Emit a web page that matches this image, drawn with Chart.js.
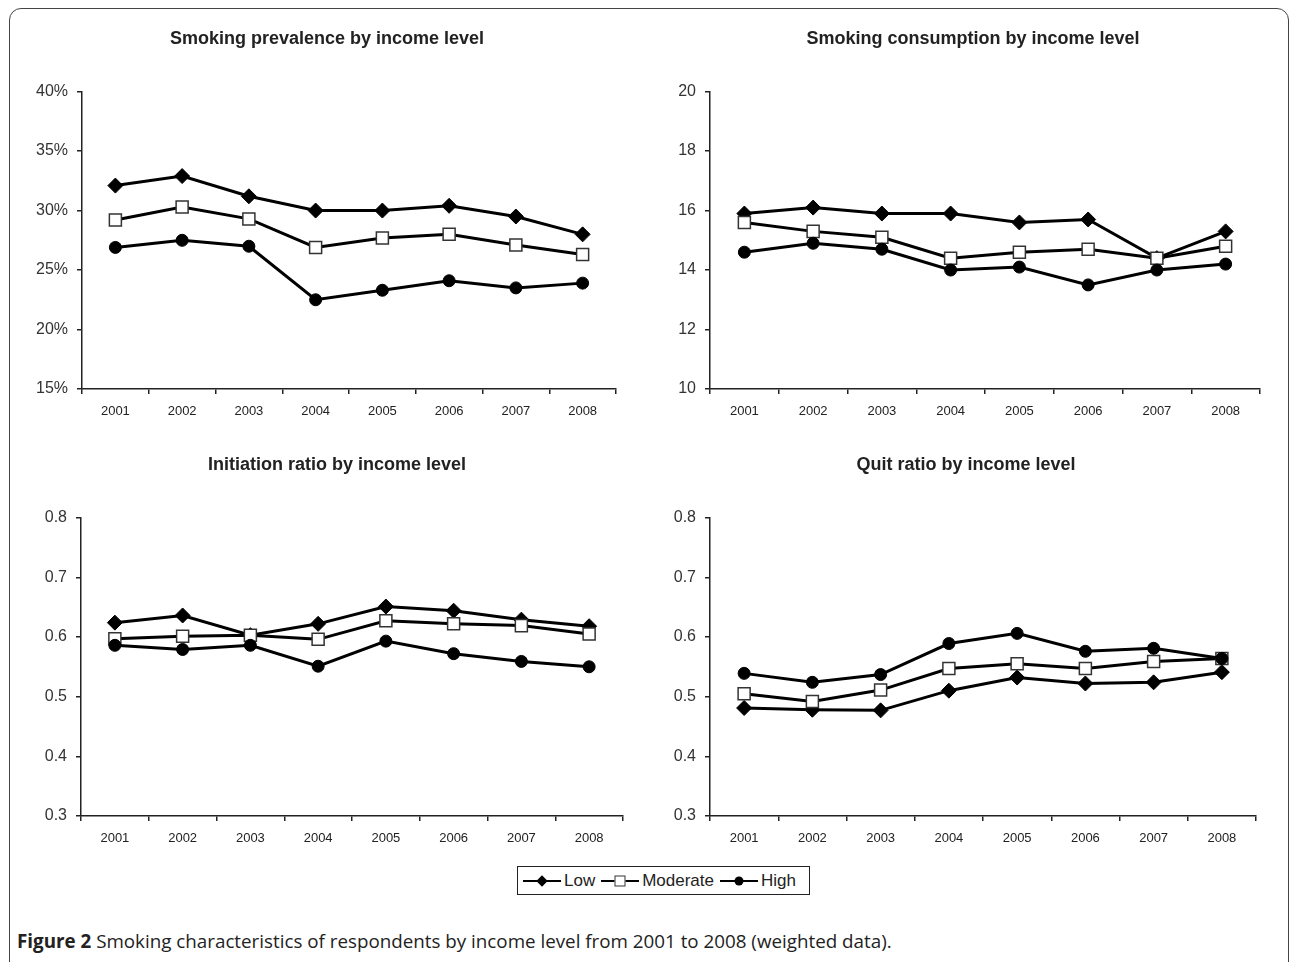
<!DOCTYPE html>
<html>
<head>
<meta charset="utf-8">
<script src="https://cdn.jsdelivr.net/npm/chart.js@4.4.0/dist/chart.umd.min.js"></script>
<style>
  body { margin: 0; background: #fff; width: 1290px; height: 962px; overflow: hidden; position: relative; }
  #frame { position: absolute; left: 9px; top: 8px; width: 1280px; height: 980px; border: 1.5px solid #444; border-radius: 12px; box-sizing: border-box; }
  .panel { position: absolute; }
  #legend { position: absolute; left: 517px; top: 866px; width: 293px; height: 29px; border: 1px solid #222; box-sizing: border-box;
    display: flex; align-items: center; padding-left: 5px; font-family: "Liberation Sans", Arial, sans-serif; font-size: 17px; color: #222; }
  .item { display: flex; align-items: center; margin-right: 6px; }
  .sym { position: relative; width: 38px; height: 2px; background: #000; margin-right: 3px; }
  .sym::after { content: ""; position: absolute; left: 50%; top: 50%; }
  .sym.low::after { width: 8px; height: 8px; background: #000; transform: translate(-50%, -50%) rotate(45deg); }
  .sym.mod::after { width: 9px; height: 9px; background: #fff; border: 1px solid #333; transform: translate(-50%, -50%); }
  .sym.high::after { width: 9px; height: 9px; background: #000; border-radius: 50%; transform: translate(-50%, -50%); }
  #caption { position: absolute; left: 17px; top: 928px; font-family: "Open Sans", sans-serif; font-size: 18.8px; color: #222; white-space: nowrap; }
  #caption b { font-weight: 700; }
</style>
</head>
<body>
<div id="frame"></div>

<div class="panel" style="left:28px; top:28px; width:598px; height:393px;"><canvas id="prevChart"></canvas></div>
<div class="panel" style="left:676px; top:28px; width:594px; height:393px;"><canvas id="consChart"></canvas></div>
<div class="panel" style="left:41px; top:454px; width:592px; height:394px;"><canvas id="initChart"></canvas></div>
<div class="panel" style="left:666px; top:454px; width:600px; height:394px;"><canvas id="quitChart"></canvas></div>

<div id="legend">
  <span class="item"><span class="sym low"></span>Low</span>
  <span class="item"><span class="sym mod"></span>Moderate</span>
  <span class="item"><span class="sym high"></span>High</span>
</div>

<div id="caption"><b>Figure 2</b> Smoking characteristics of respondents by income level from 2001 to 2008 (weighted data).</div>

<script>
// years on the x axis
const years = ['2001', '2002', '2003', '2004', '2005', '2006', '2007', '2008'];

// smoking prevalence (%)
const prevLow = [32.1, 32.9, 31.2, 30.0, 30.0, 30.4, 29.5, 28.0];
const prevModerate = [29.2, 30.3, 29.3, 26.9, 27.7, 28.0, 27.1, 26.3];
const prevHigh = [26.9, 27.5, 27.0, 22.5, 23.3, 24.1, 23.5, 23.9];

// smoking consumption
const consLow = [15.9, 16.1, 15.9, 15.9, 15.6, 15.7, 14.4, 15.3];
const consModerate = [15.6, 15.3, 15.1, 14.4, 14.6, 14.7, 14.4, 14.8];
const consHigh = [14.6, 14.9, 14.7, 14.0, 14.1, 13.5, 14.0, 14.2];

// initiation ratio
const initLow = [0.624, 0.636, 0.603, 0.622, 0.651, 0.644, 0.629, 0.618];
const initModerate = [0.597, 0.601, 0.603, 0.596, 0.627, 0.622, 0.619, 0.605];
const initHigh = [0.586, 0.579, 0.586, 0.551, 0.593, 0.572, 0.559, 0.550];

// quit ratio
const quitLow = [0.481, 0.478, 0.477, 0.510, 0.532, 0.522, 0.524, 0.541];
const quitModerate = [0.505, 0.492, 0.511, 0.547, 0.555, 0.547, 0.559, 0.564];
const quitHigh = [0.539, 0.524, 0.537, 0.589, 0.606, 0.576, 0.581, 0.564];

const fontFamily = '"Liberation Sans", Arial, sans-serif';
const axisColor = '#222';

function makeChart(id, title, low, moderate, high, yMin, yMax, yStep, yFormat, yWidth) {
  const ctx = document.getElementById(id).getContext('2d');
  return new Chart(ctx, {
    type: 'line',
    data: {
      labels: years,
      datasets: [
        { label: 'Low', data: low, order: 3, borderColor: '#000', borderWidth: 3,
          pointStyle: 'rectRot', pointRadius: 7.5, pointBackgroundColor: '#000', pointBorderColor: '#000', pointBorderWidth: 1 },
        { label: 'Moderate', data: moderate, order: 2, borderColor: '#000', borderWidth: 3,
          pointStyle: 'rect', pointRadius: 8.5, pointBackgroundColor: '#fff', pointBorderColor: '#333', pointBorderWidth: 1.5 },
        { label: 'High', data: high, order: 1, borderColor: '#000', borderWidth: 3,
          pointStyle: 'circle', pointRadius: 6, pointBackgroundColor: '#000', pointBorderColor: '#000', pointBorderWidth: 1 },
      ],
    },
    options: {
      responsive: true,
      maintainAspectRatio: false,
      animation: false,
      layout: { padding: 0 },
      plugins: {
        legend: { display: false },
        tooltip: { enabled: false },
        title: {
          display: true,
          text: title,
          color: '#222',
          font: { family: fontFamily, size: 18, weight: 'bold' },
          padding: { top: 0, bottom: 42 },
        },
      },
      scales: {
        x: {
          offset: true,
          grid: { offset: true, drawOnChartArea: false, drawTicks: true, tickLength: 5, color: axisColor, lineWidth: 1.5 },
          border: { display: true, color: axisColor, width: 1.5 },
          ticks: { color: '#222', padding: 10, font: { family: fontFamily, size: 13 }, maxRotation: 0 },
          afterFit: (scale) => { scale.height = 32; },
        },
        y: {
          min: yMin,
          max: yMax,
          grid: { drawOnChartArea: false, drawTicks: true, tickLength: 5, color: axisColor, lineWidth: 1.5 },
          border: { display: true, color: axisColor, width: 1.5 },
          ticks: { stepSize: yStep, color: '#333', padding: 9, font: { family: fontFamily, size: 16 }, callback: yFormat },
          afterFit: (scale) => { scale.width = yWidth; },
        },
      },
    },
  });
}

makeChart('prevChart', 'Smoking prevalence by income level', prevLow, prevModerate, prevHigh,
  15, 40, 5, (v) => v + '%', 54);
makeChart('consChart', 'Smoking consumption by income level', consLow, consModerate, consHigh,
  10, 20, 2, (v) => v, 34);
makeChart('initChart', 'Initiation ratio by income level', initLow, initModerate, initHigh,
  0.3, 0.8, 0.1, (v) => v.toFixed(1), 40);
makeChart('quitChart', 'Quit ratio by income level', quitLow, quitModerate, quitHigh,
  0.3, 0.8, 0.1, (v) => v.toFixed(1), 44);
</script>
</body>
</html>
